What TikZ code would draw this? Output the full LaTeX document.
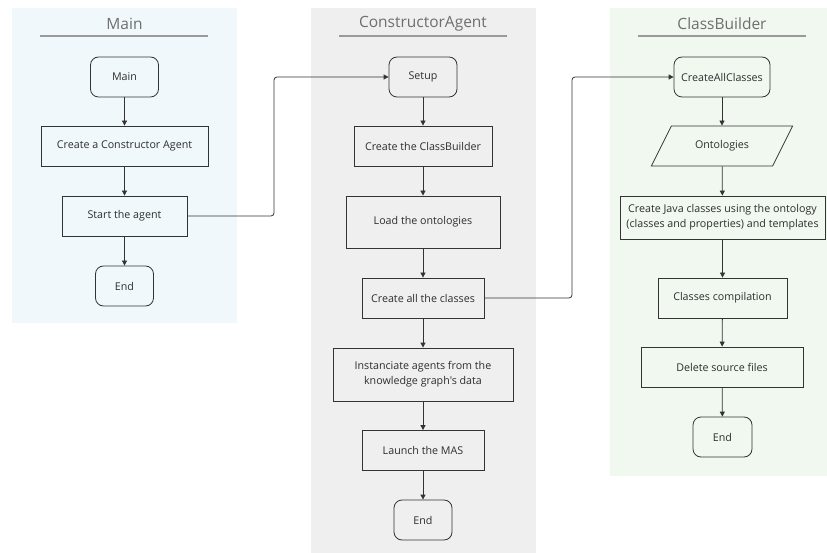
\documentclass[tikz,border=0pt]{standalone}
\usepackage{fontspec}
\setmainfont{Open Sans}[Ligatures=TeXOff]
\usetikzlibrary{arrows.meta,shapes.geometric}
\definecolor{mainbg}{HTML}{F1F8FB}
\definecolor{agentbg}{HTML}{EFEFEF}
\definecolor{builderbg}{HTML}{F0F8F0}
\definecolor{ink}{HTML}{333333}
\definecolor{titlegray}{HTML}{6E6E6E}
\definecolor{rulegray}{HTML}{9A9A9A}
\tikzset{
  base/.style={draw=ink, line width=0.8pt, align=center, font=\fontsize{10.7}{14.7}\selectfont, text=ink!90!black, inner sep=0pt},
  procbox/.style={base, rectangle},
  termbox/.style={base, rectangle, rounded corners=8pt},
  iobox/.style={base, trapezium, trapezium left angle=45, trapezium right angle=135, trapezium stretches=true},
  flow/.style={draw=ink, line width=0.8pt, -{Triangle[length=5pt,width=5pt]}},
  link/.style={flow, rounded corners=3pt},
  lanetitle/.style={font=\fontsize{15.5}{18}\selectfont, text=titlegray},
  laneline/.style={draw=rulegray, line width=1.2pt},
}
\begin{document}
\begin{tikzpicture}[x=1pt,y=-1pt]
\useasboundingbox (0,0) rectangle (827,553);

% swimlane backgrounds
\fill[mainbg] (12,8) rectangle (237,323);
\fill[agentbg] (311,8) rectangle (536,553);
\fill[builderbg] (610,8) rectangle (827,476);

% lane titles
\node[lanetitle] (tmain) at (124.5,24) {Main};
\draw[laneline] (40,36) -- (208,36);
\node[lanetitle] (tagent) at (423,24) {ConstructorAgent};
\draw[laneline] (339,36) -- (507,36);
\node[lanetitle] (tbuilder) at (722,24) {ClassBuilder};
\draw[laneline] (638,36) -- (806,36);

% Main lane
\node[termbox, minimum width=68pt, minimum height=40pt] (m1) at (124.5,77) {Main};
\node[procbox, minimum width=167pt, minimum height=40pt] (m2) at (124.5,146) {Create a Constructor Agent};
\node[procbox, minimum width=125pt, minimum height=40pt] (m3) at (124.5,216) {Start the agent};
\node[termbox, minimum width=58pt, minimum height=40pt] (m4) at (124.5,286) {End};

% ConstructorAgent lane
\node[termbox, minimum width=68pt, minimum height=40pt] (a1) at (423,77) {Setup};
\node[procbox, minimum width=138pt, minimum height=40pt] (a2) at (423,146) {Create the ClassBuilder};
\node[procbox, minimum width=154pt, minimum height=52pt] (a3) at (423,222) {Load the ontologies};
\node[procbox, minimum width=122pt, minimum height=40pt] (a4) at (423,298) {Create all the classes};
\node[procbox, minimum width=180pt, minimum height=53pt] (a5) at (423,374.5) {Instanciate agents from the\\knowledge graph's data};
\node[procbox, minimum width=122pt, minimum height=40pt] (a6) at (423,450.5) {Launch the MAS};
\node[termbox, minimum width=58pt, minimum height=40pt] (a7) at (423,520) {End};

% ClassBuilder lane
\node[termbox, minimum width=96pt, minimum height=40pt] (b1) at (722,77) {CreateAllClasses};
\node[iobox, minimum width=142pt, minimum height=40pt] (b2) at (722,146) {Ontologies};
\node[procbox, minimum width=205pt, minimum height=43pt] (b3) at (722.5,217.5) {Create Java classes using the ontology\\(classes and properties) and templates};
\node[procbox, minimum width=129pt, minimum height=40pt] (b4) at (722.5,298) {Classes compilation};
\node[procbox, minimum width=162pt, minimum height=40pt] (b5) at (722,367) {Delete source files};
\node[termbox, minimum width=59pt, minimum height=40pt] (b6) at (722.5,437) {End};

% flows inside lanes
\draw[flow] (m1) -- (m2);
\draw[flow] (m2) -- (m3);
\draw[flow] (m3) -- (m4);
\draw[flow] (a1) -- (a2);
\draw[flow] (a2) -- (a3);
\draw[flow] (a3) -- (a4);
\draw[flow] (a4) -- (a5);
\draw[flow] (a5) -- (a6);
\draw[flow] (a6) -- (a7);
\draw[flow] (b1) -- (b2);
\draw[flow] (b2) -- (b3);
\draw[flow] (b3) -- (b4);
\draw[flow] (b4) -- (b5);
\draw[flow] (b5) -- (b6);

% calls between lanes
\draw[link] (m3.east) -- (274,216) -- (274,77) -- (a1.west);
\draw[link] (a4.east) -- (572,298) -- (572,77) -- (b1.west);
\end{tikzpicture}
\end{document}
